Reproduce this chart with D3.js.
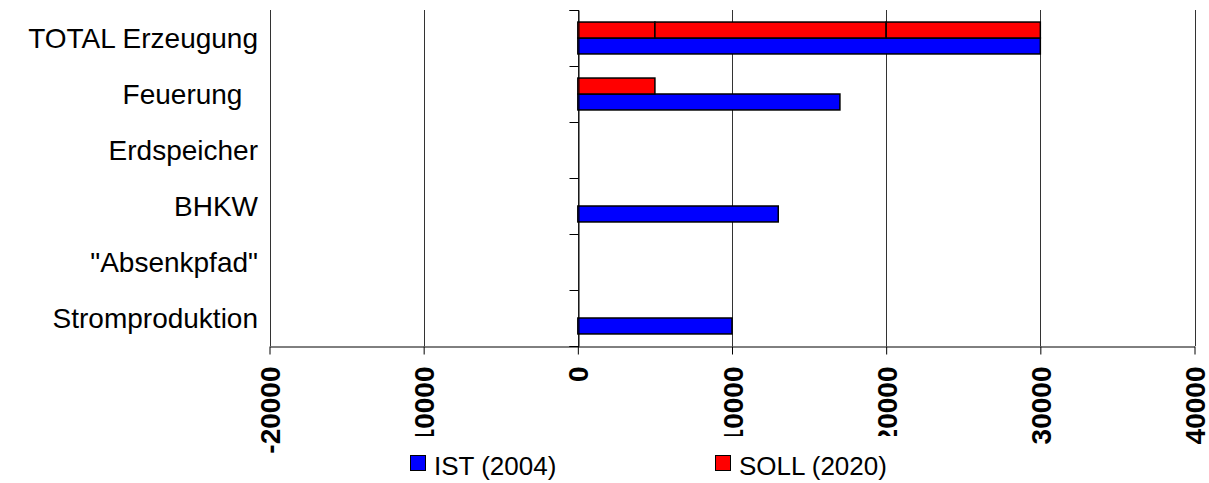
<!DOCTYPE html>
<html>
<head>
<meta charset="utf-8">
<script src="https://cdn.jsdelivr.net/npm/d3@7"></script>
<style>
  body { margin: 0; background: #fff; }
  svg { font-family: "Liberation Sans", Arial, sans-serif; }
</style>
</head>
<body>
<div id="chart"></div>
<script>
// categories, top to bottom
var categories = ["TOTAL Erzeugung", "Feuerung  ", "Erdspeicher", "BHKW", "\"Absenkpfad\"", "Stromproduktion"];
// IST (2004) values
var istValues = [30000, 17000, 0, 13000, 0, 10000];
// SOLL (2020) values, drawn as stacked pieces
var sollParts = [[5000, 15000, 10000], [5000], [], [], [], []];
var xTicks = [-20000, -10000, 0, 10000, 20000, 30000, 40000];
var seriesNames = ["IST (2004)", "SOLL (2020)"];
var seriesColors = ["#0000ff", "#ff0000"];

function init() {
    var w = 1209, h = 483;
    var left = 269.5, right = 1194.5, top = 10, bottom = 346;

    var svg = d3.select("#chart").append("svg")
        .attr("width", w)
        .attr("height", h);

    var x = d3.scaleLinear().domain([-20000, 40000]).range([left, right]);
    var y = d3.scaleBand().domain(categories).range([top, bottom]);
    var yIdx = d3.scaleLinear().domain([0, categories.length]).range([top, bottom]); // band boundaries

    // gridlines
    svg.append("g").selectAll("line")
        .data(xTicks)
        .enter().append("line")
        .attr("x1", d => Math.round(x(d)) + 0.5)
        .attr("x2", d => Math.round(x(d)) + 0.5)
        .attr("y1", top)
        .attr("y2", bottom)
        .attr("stroke", "#333")
        .attr("stroke-width", 1);

    var barH = y.bandwidth() * 0.285;

    // IST bars (lower half of pair)
    svg.append("g").selectAll("rect")
        .data(istValues.map((v, i) => ({cat: categories[i], v: v})).filter(d => d.v > 0))
        .enter().append("rect")
        .attr("x", x(0))
        .attr("y", d => y(d.cat) + y.bandwidth() / 2)
        .attr("width", d => x(d.v) - x(0))
        .attr("height", barH)
        .attr("fill", seriesColors[0])
        .attr("stroke", "#000")
        .attr("stroke-width", 1.5);

    // SOLL bars (upper half), stacked pieces
    var pieces = [];
    sollParts.forEach(function(parts, i) {
        var acc = 0;
        parts.forEach(function(p) {
            pieces.push({cat: categories[i], x0: acc, x1: acc + p});
            acc += p;
        });
    });
    svg.append("g").selectAll("rect")
        .data(pieces)
        .enter().append("rect")
        .attr("x", d => x(d.x0))
        .attr("y", d => y(d.cat) + y.bandwidth() / 2 - barH)
        .attr("width", d => x(d.x1) - x(d.x0))
        .attr("height", barH)
        .attr("fill", seriesColors[1])
        .attr("stroke", "#000")
        .attr("stroke-width", 1.5);

    // category axis at value 0
    var catAxis = svg.append("g")
        .attr("transform", "translate(" + (Math.round(x(0)) + 0.5) + ",0)")
        .call(d3.axisLeft(yIdx).tickValues(d3.range(categories.length + 1)).tickSize(9).tickFormat(""));
    catAxis.select(".domain").attr("stroke", "#000");

    // category labels at the left of the plot
    svg.append("g").selectAll("text")
        .data(categories)
        .enter().append("text")
        .attr("x", 258)
        .attr("y", d => y(d) + y.bandwidth() / 2)
        .attr("dy", "0.35em")
        .attr("text-anchor", "end")
        .style("white-space", "pre")
        .attr("font-size", 28)
        .attr("fill", "#000")
        .text(d => d);

    // value axis
    var xAxis = svg.append("g")
        .attr("transform", "translate(0," + (bottom + 0.5) + ")")
        .call(d3.axisBottom(x).tickValues(xTicks).tickSize(8).tickSizeOuter(0).tickFormat(d => String(d)));
    xAxis.selectAll(".tick line").attr("stroke", "#000");
    xAxis.selectAll("text")
        .attr("transform", "rotate(-90)")
        .attr("text-anchor", "end")
        .attr("x", -20)
        .attr("y", 0)
        .attr("dy", "0.36em")
        .attr("font-size", 28)
        .attr("font-weight", "bold")
        .attr("font-family", "'Liberation Sans', Arial, sans-serif")
        .attr("fill", "#000");

    // legend box covers the label ends
    var legend = svg.append("g");
    legend.append("rect")
        .attr("x", 403).attr("y", 436)
        .attr("width", 500).attr("height", 47)
        .attr("fill", "#fff");
    var legendX = [410, 715];
    seriesNames.forEach(function(name, i) {
        legend.append("rect")
            .attr("x", legendX[i] + 0.5).attr("y", 455.5)
            .attr("width", 15).attr("height", 15)
            .attr("fill", seriesColors[i])
            .attr("stroke", "#000")
            .attr("stroke-width", 1);
        legend.append("text")
            .attr("x", legendX[i] + 24)
            .attr("y", 475)
            .attr("font-size", 26)
            .attr("fill", "#000")
            .text(name);
    });
}

window.onload = init;
</script>
</body>
</html>
